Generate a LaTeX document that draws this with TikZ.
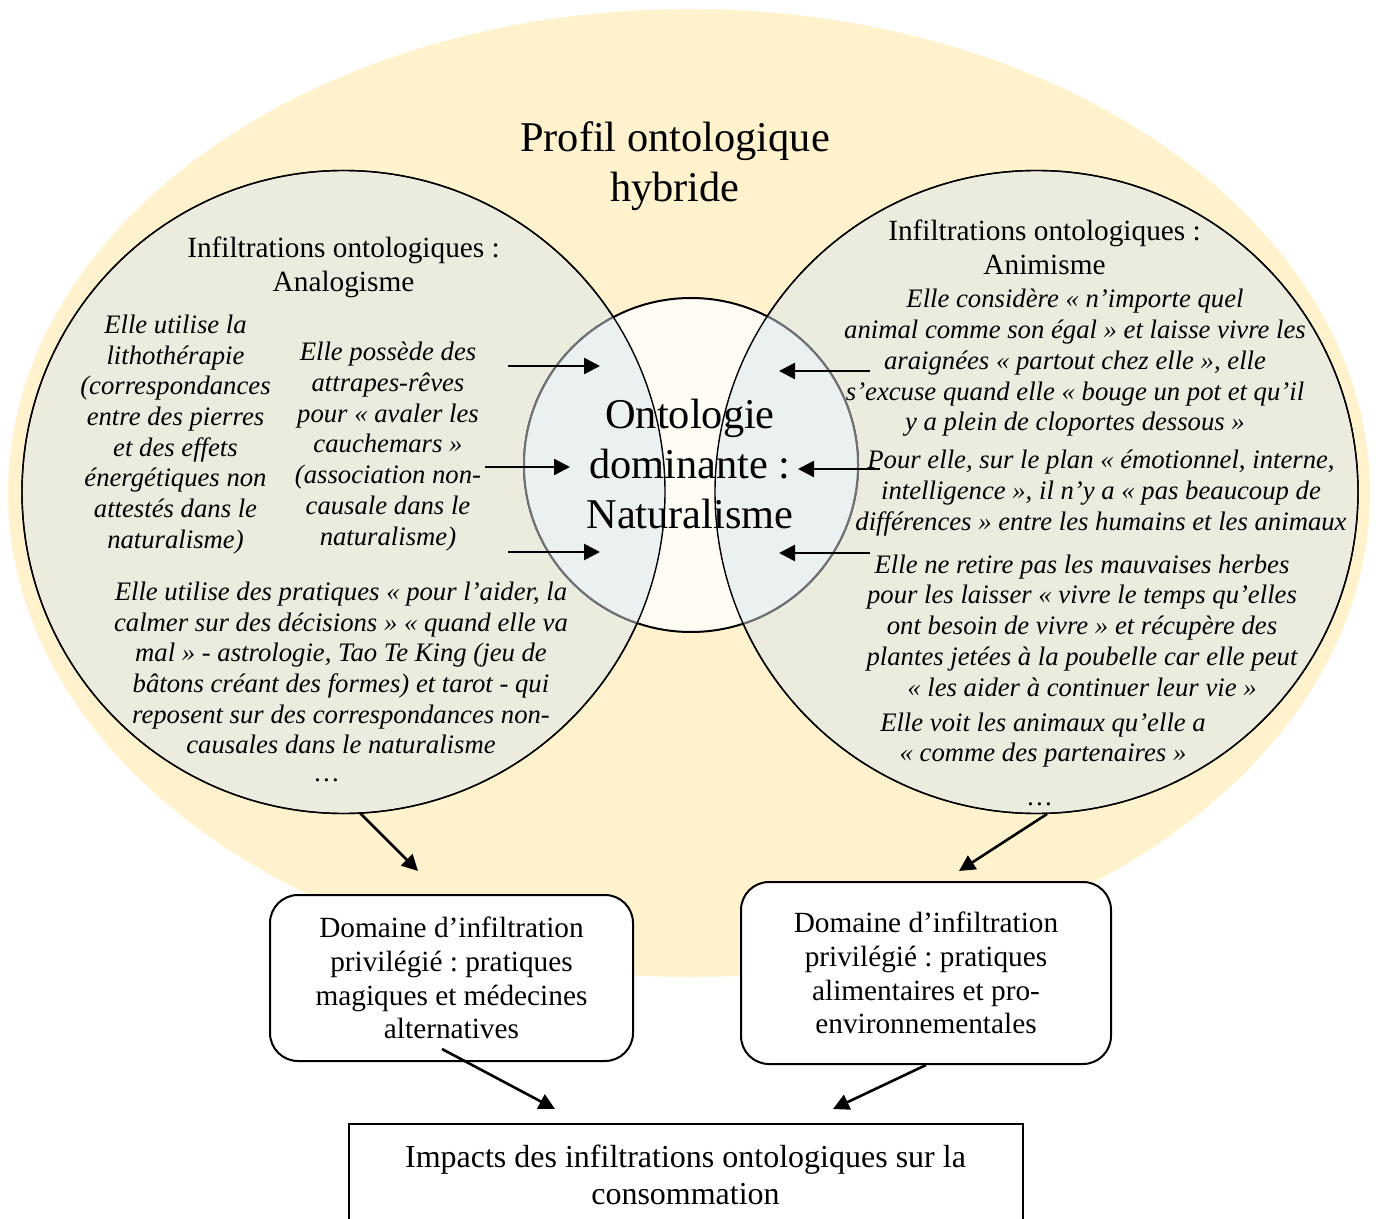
\documentclass[tikz,border=0pt]{standalone}
\usepackage{fontspec}
\setmainfont{Liberation Serif}
\usetikzlibrary{arrows.meta}
\definecolor{profil}{HTML}{FFF2CC}
\definecolor{infiltr}{HTML}{EBEBDE}
\definecolor{natur}{HTML}{FFFCF3}
\definecolor{recouv}{HTML}{EBF1F1}
\definecolor{bordgris}{HTML}{6E7276}
\frenchspacing

\tikzset{
  fleche/.style={line width=1.3pt, -{Triangle[length=8pt,width=8pt]}},
  titre/.style={align=center, inner sep=0pt, font=\fontsize{21.2}{24.8}\selectfont},
  entete/.style={align=center, inner sep=0pt, font=\fontsize{14.65}{16.9}\selectfont},
  extrait/.style={align=center, inner sep=0pt, font=\fontsize{13.35}{15.35}\selectfont\itshape},
  domaine/.style={draw, line width=1pt, rounded corners=14pt, fill=white, align=center, inner sep=0pt, font=\fontsize{14.65}{16.9}\selectfont},
}

\begin{document}
\begin{tikzpicture}[x=0.5pt, y=-0.5pt]
\def\R{321.5}
\def\Rc{167}

\useasboundingbox (0,0) rectangle (1376,1219);

% profil hybride
\fill[profil] (689,493) ellipse [x radius=681, y radius=484];

\coordinate (gauche) at (343.5,492);
\coordinate (droite) at (1036.5,492);
\coordinate (milieu) at (691,465);

\filldraw[fill=infiltr, line width=0.7pt] (gauche) circle [radius=\R];
\filldraw[fill=infiltr, line width=0.7pt] (droite) circle [radius=\R];
\filldraw[fill=natur, line width=1pt] (milieu) circle [radius=\Rc];

\begin{scope}
  \clip (gauche) circle [radius=\R];
  \filldraw[fill=recouv, draw=bordgris, line width=1pt] (milieu) circle [radius=\Rc];
\end{scope}
\begin{scope}
  \clip (droite) circle [radius=\R];
  \filldraw[fill=recouv, draw=bordgris, line width=1pt] (milieu) circle [radius=\Rc];
\end{scope}
\draw[line width=0.7pt] (gauche) circle [radius=\R];
\draw[line width=0.7pt] (droite) circle [radius=\R];

\node[titre] (profil) at (675,166) {Profil ontologique\\hybride};
\node[titre] (naturalisme) at (690,464) {Ontologie\\dominante :\\Naturalisme};

% analogisme
\node[entete] (analogisme) at (343.5,267) {Infiltrations ontologiques :\\Analogisme};
\node[extrait] (litho) at (175.5,434.5) {Elle utilise la\\lithothérapie\\(correspondances\\entre des pierres\\et des effets\\énergétiques non\\attestés dans le\\naturalisme)};
\node[extrait] (reves) at (388,446.5) {Elle possède des\\attrapes-rêves\\pour «~avaler les\\cauchemars~»\\(association non-\\causale dans le\\naturalisme)};
\node[extrait] (pratiques) at (341,668) {Elle utilise des pratiques «~pour l’aider, la\\calmer sur des décisions~» «~quand elle va\\mal~» - astrologie, Tao Te King (jeu de\\bâtons créant des formes) et tarot - qui\\reposent sur des correspondances non-\\causales dans le naturalisme};
\node[extrait, anchor=base] (suiteA) at (327,781) {…};

% animisme
\node[entete] (animisme) at (1044.5,247) {Infiltrations ontologiques :\\Animisme};
\node[extrait] (egal) at (1075,363) {Elle considère «~n’importe quel\\animal comme son égal~» et laisse vivre les\\araignées «~partout chez elle~», elle\\s’excuse quand elle «~bouge un pot et qu’il\\y a plein de cloportes dessous~»};
\node[extrait] (interne) at (1101,493) {Pour elle, sur le plan «~émotionnel, interne,\\intelligence~», il n’y a «~pas beaucoup de\\différences~» entre les humains et les animaux};
\node[extrait] (herbes) at (1082,625.5) {Elle ne retire pas les mauvaises herbes\\pour les laisser «~vivre le temps qu’elles\\ont besoin de vivre~» et récupère des\\plantes jetées à la poubelle car elle peut\\«~les aider à continuer leur vie~»};
\node[extrait] (partenaires) at (1043,740) {Elle voit les animaux qu’elle a\\«~comme des partenaires~»};
\node[extrait, anchor=base] (suiteB) at (1040,805) {…};

% vers le naturalisme
\foreach \xa/\xb/\y [count=\i] in {508/600/366, 485/570/467, 508/600/552} {
  \coordinate (ga\i) at (\xa,\y);
  \coordinate (gb\i) at (\xb,\y);
  \draw[fleche] (ga\i) -- (gb\i);
}
\foreach \xa/\xb/\y [count=\i] in {870/779/371, 880/798/469, 870/779/553} {
  \coordinate (da\i) at (\xa,\y);
  \coordinate (db\i) at (\xb,\y);
  \draw[fleche] (da\i) -- (db\i);
}

% domaines
\node[domaine, minimum width=181.5pt, minimum height=83pt] (domA) at (451.5,978) {Domaine d’infiltration\\privilégié : pratiques\\magiques et médecines\\alternatives};
\node[domaine, minimum width=185pt, minimum height=91pt] (domB) at (926,973) {Domaine d’infiltration\\privilégié : pratiques\\alimentaires et pro-\\environnementales};
\node[draw, line width=1pt, fill=white, anchor=north, minimum width=337pt, minimum height=51pt, align=center, inner sep=0pt, font=\fontsize{16}{18.4}\selectfont] (impact) at (685.5,1123) {Impacts des infiltrations ontologiques sur la\\consommation};

\coordinate (basA) at (360,813);
\coordinate (versA) at (418,871);
\coordinate (basB) at (1047,814);
\coordinate (versB) at (959,871);
\coordinate (depA) at (442,1049);
\coordinate (impA) at (555,1109);
\coordinate (impB) at (833,1109);

\draw[fleche] (basA) -- (versA);
\draw[fleche] (basB) -- (versB);
\draw[fleche] (depA) -- (impA);
\draw[fleche] (domB.south) -- (impB);
\end{tikzpicture}
\end{document}
